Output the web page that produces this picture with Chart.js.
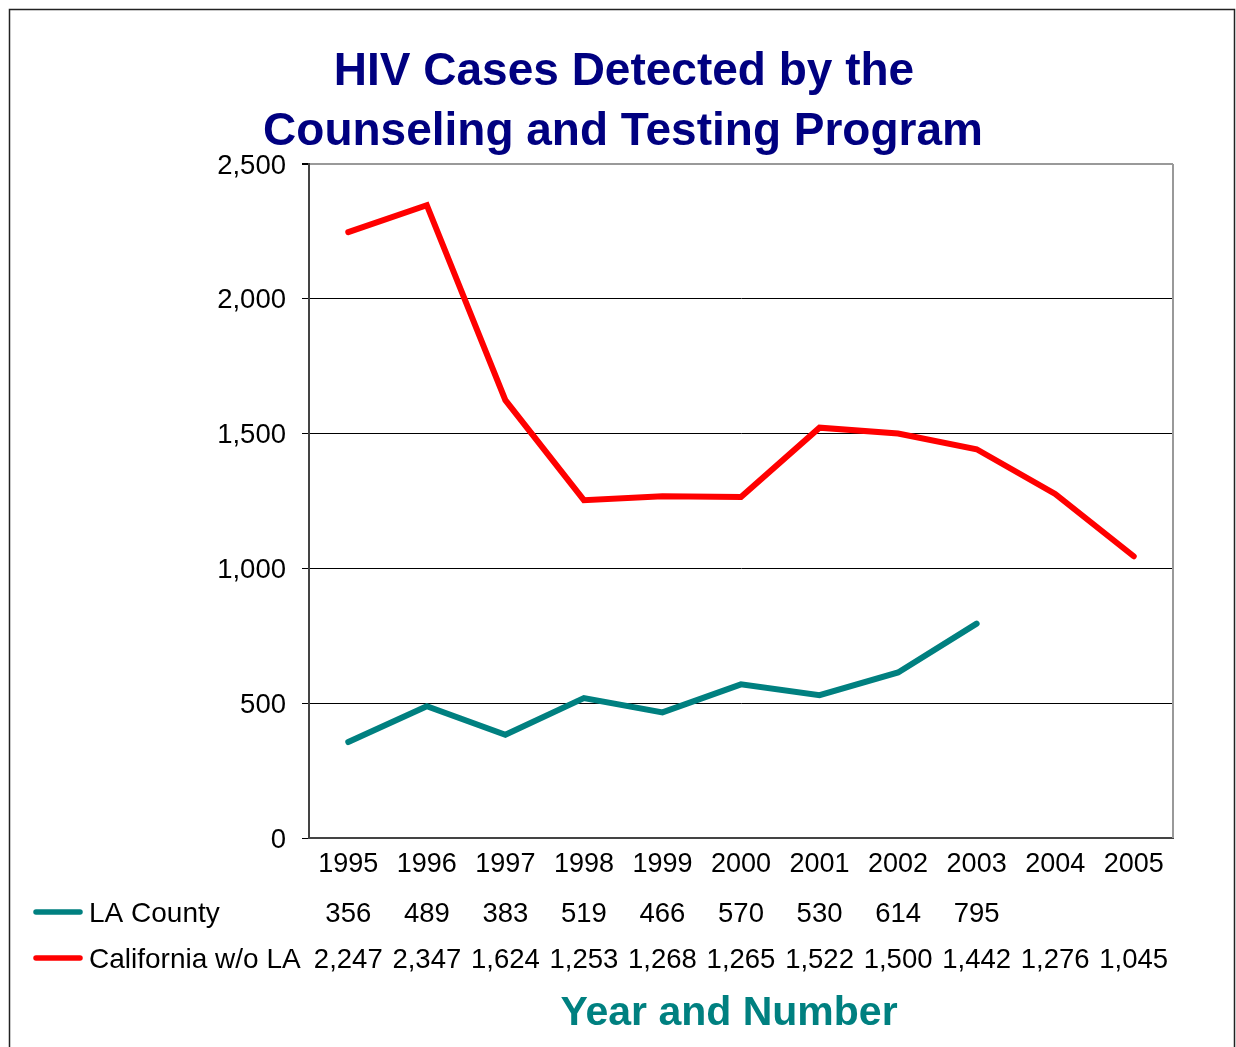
<!DOCTYPE html>
<html>
<head>
<meta charset="utf-8">
<title>HIV Cases Detected by the Counseling and Testing Program</title>
<script src="https://cdn.jsdelivr.net/npm/chart.js@4/dist/chart.umd.min.js"></script>
<style>
  html, body { margin: 0; padding: 0; background: #fff; }
  #wrap { position: relative; width: 1236px; height: 1047px; }
</style>
</head>
<body>
<div id="wrap"><canvas id="hivChart" width="1236" height="1047"></canvas></div>
<script>
// years along the bottom, one column per year in the table
var years = ['1995', '1996', '1997', '1998', '1999', '2000', '2001', '2002', '2003', '2004', '2005'];

// cases per year; LA County has no figures after 2003
var laCounty = [356, 489, 383, 519, 466, 570, 530, 614, 795, null, null];
var californiaNoLA = [2247, 2347, 1624, 1253, 1268, 1265, 1522, 1500, 1442, 1276, 1045];

var seriesNames = ['LA County', 'California w/o LA'];
var seriesColors = ['#008080', '#FF0000'];

var titleLines = ['HIV Cases Detected by the', 'Counseling and Testing Program'];
var axisTitle = 'Year and Number';

var FONT = '"Liberation Sans", Arial, sans-serif';

function fmt(v) {
    return v == null ? '' : v.toLocaleString('en-US');
}

// title, frame, data table rows, legend keys
var decorPlugin = {
    id: 'decor',
    afterDraw: function (chart) {
        var ctx = chart.ctx;
        var area = chart.chartArea;
        var x = chart.scales.x;
        ctx.save();

        // outer frame
        ctx.strokeStyle = '#222';
        ctx.lineWidth = 1.5;
        ctx.beginPath();
        ctx.moveTo(9.5, 1047);
        ctx.lineTo(9.5, 9.5);
        ctx.lineTo(1234.5, 9.5);
        ctx.lineTo(1234.5, 1047);
        ctx.stroke();

        // right edge of the plot
        ctx.strokeStyle = '#999';
        ctx.lineWidth = 2;
        ctx.beginPath();
        ctx.moveTo(area.right, area.top);
        ctx.lineTo(area.right, area.bottom);
        ctx.stroke();

        // title
        ctx.fillStyle = '#000080';
        ctx.font = 'bold 46px ' + FONT;
        ctx.textAlign = 'center';
        ctx.textBaseline = 'middle';
        ctx.fillText(titleLines[0], 624, 72);
        ctx.fillText(titleLines[1], 623, 132);

        // table rows
        var rows = [laCounty, californiaNoLA];
        var rowY = [914, 960];
        for (var r = 0; r < rows.length; r++) {
            ctx.fillStyle = '#000';
            ctx.textAlign = 'center';
            ctx.font = '27.5px ' + FONT;
            for (var i = 0; i < years.length; i++) {
                var txt = fmt(rows[r][i]);
                if (txt) ctx.fillText(txt, x.getPixelForValue(i), rowY[r]);
            }
            // legend key
            ctx.strokeStyle = seriesColors[r];
            ctx.lineWidth = 5.5;
            ctx.lineCap = 'round';
            ctx.beginPath();
            ctx.moveTo(36, rowY[r] - 2);
            ctx.lineTo(80, rowY[r] - 2);
            ctx.stroke();
            ctx.textAlign = 'left';
            ctx.font = '28px ' + FONT;
            ctx.fillText(seriesNames[r], 89, rowY[r]);
        }

        // axis title
        ctx.fillStyle = '#008080';
        ctx.font = 'bold 41px ' + FONT;
        ctx.textAlign = 'center';
        ctx.fillText(axisTitle, 729, 1014);
        ctx.restore();
    }
};

var ctx = document.getElementById('hivChart').getContext('2d');
var chart = new Chart(ctx, {
    type: 'line',
    data: {
        labels: years,
        datasets: [
            {
                label: seriesNames[0],
                data: laCounty,
                borderColor: seriesColors[0],
                borderWidth: 6,
                borderCapStyle: 'round',
                pointRadius: 0,
                spanGaps: false,
                tension: 0
            },
            {
                label: seriesNames[1],
                data: californiaNoLA,
                borderColor: seriesColors[1],
                borderWidth: 6,
                borderCapStyle: 'round',
                pointRadius: 0,
                tension: 0
            }
        ]
    },
    options: {
        responsive: false,
        animation: false,
        devicePixelRatio: 1,
        layout: { padding: { left: 0, top: 164, right: 63, bottom: 0 } },
        plugins: {
            legend: { display: false },
            title: { display: false },
            tooltip: { enabled: false }
        },
        scales: {
            x: {
                offset: true,
                grid: { display: false, drawTicks: false },
                border: { color: '#444', width: 2 },
                ticks: {
                    color: '#000',
                    font: { family: FONT, size: 27 },
                    padding: 10,
                    maxRotation: 0,
                    autoSkip: false
                },
                afterFit: function (s) { s.height = 1047 - 838; }
            },
            y: {
                min: 0,
                max: 2500,
                grid: {
                    color: function (c) { return c.tick && c.tick.value === 2500 ? '#999' : '#000'; },
                    lineWidth: function (c) { return c.tick && c.tick.value === 2500 ? 2 : 1; },
                    tickLength: 7,
                    tickColor: '#000'
                },
                border: { color: '#444', width: 2 },
                ticks: {
                    stepSize: 500,
                    color: '#000',
                    font: { family: FONT, size: 27.5 },
                    padding: 16,
                    labelOffset: 2,
                    callback: function (v) { return fmt(v); }
                },
                afterFit: function (s) { s.width = 309; }
            }
        }
    },
    plugins: [decorPlugin]
});
</script>
</body>
</html>
